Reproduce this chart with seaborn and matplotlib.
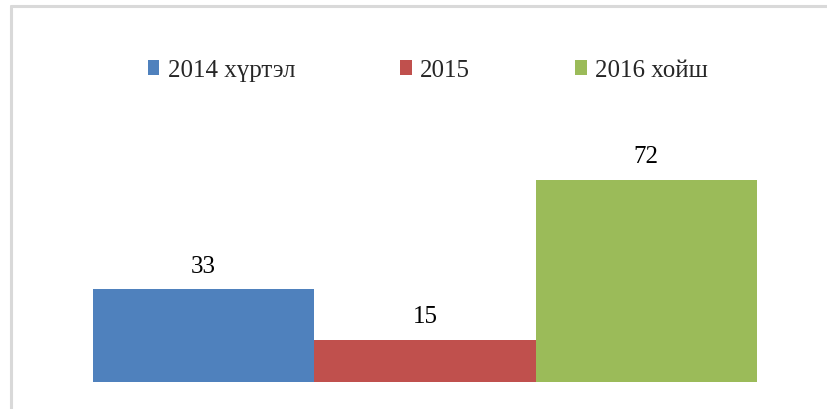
import pandas as pd
import seaborn as sns
import matplotlib.pyplot as plt
from matplotlib.lines import Line2D

sns.set_theme(style="white")
plt.rcParams['font.family'] = ['Liberation Serif', 'DejaVu Serif']

categories = ["2014 хүртэл", "2015", "2016 хойш"]
values = [33, 15, 72]
colors = ["#4F81BD", "#C0504D", "#9BBB59"]

df = pd.DataFrame({"period": categories, "count": values})
palette = dict(zip(categories, colors))

W, H = 828, 410
fig = plt.figure(figsize=(W / 100, H / 100), dpi=100)
fig.patch.set_facecolor("white")

# plot area in pixel terms
left, right, base, top = 93, 757, 383, 158.5
ax = fig.add_axes([left / W, (H - base) / H, (right - left) / W, (base - top) / H])

sns.barplot(data=df, x="period", y="count", hue="period", palette=palette,
            width=1.0, saturation=1, linewidth=0, legend=True, ax=ax)
ax.set_xlim(-0.5, 2.5)
ax.set_ylim(0, 80)
ax.set_xlabel("")
ax.set_ylabel("")
ax.set_xticks([])
ax.set_yticks([])
for s in ax.spines.values():
    s.set_visible(False)

for c in ax.containers:
    ax.bar_label(c, fmt="%g", padding=9, fontsize=18, color="black")

handles, labels = ax.get_legend_handles_labels()
ax.get_legend().remove()
fig.legend(handles, labels, loc="center", bbox_to_anchor=(428 / W, 1 - 71 / H),
           ncol=3, frameon=False, fontsize=18, handlelength=0.45, handleheight=0.55,
           handletextpad=0.35, columnspacing=4.2)

# light frame around the chart
fig.add_artist(Line2D([10.5 / W, 10.5 / W], [0, 1 - 6.5 / H], transform=fig.transFigure,
                      color="#d9d9d9", linewidth=2.2))
fig.add_artist(Line2D([10.5 / W, 1], [1 - 6.5 / H, 1 - 6.5 / H], transform=fig.transFigure,
                      color="#d9d9d9", linewidth=2.2))

fig.savefig("out.png", dpi=100, facecolor="white")
